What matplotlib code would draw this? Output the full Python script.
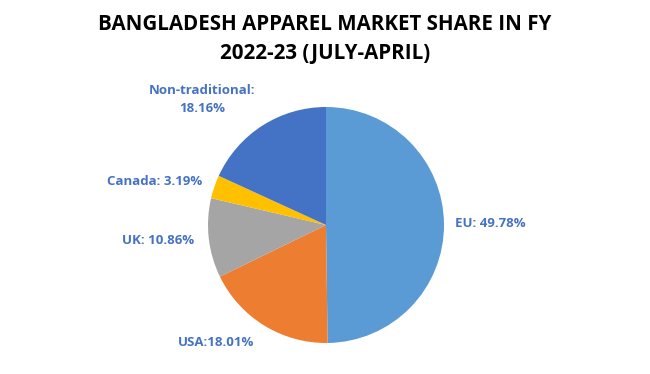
import matplotlib.pyplot as plt

markets = ['EU', 'USA', 'UK', 'Canada', 'Non-traditional']
shares = [49.78, 18.01, 10.86, 3.19, 18.16]
labels = ['EU: 49.78%', 'USA:18.01%', 'UK: 10.86%', 'Canada: 3.19%', 'Non-traditional:\n18.16%']
colors = ['#5B9BD5', '#ED7D31', '#A5A5A5', '#FFC000', '#4472C4']
# label anchor pixel positions (centre of text) in the 650x374 frame
lab_px = [(490, 224), (216, 342), (158, 241), (155, 182), (202, 100)]

W, H = 650, 374
cx, cy, r = 326, 225, 118

fig = plt.figure(figsize=(6.5, 3.74), dpi=100)
ax = fig.add_axes([(cx - r) / W, (H - cy - r) / H, 2 * r / W, 2 * r / H])
ax.pie(shares, colors=colors, startangle=90, counterclock=False, radius=1,
       wedgeprops=dict(linewidth=0))
ax.set_xlim(-1, 1)
ax.set_ylim(-1, 1)
ax.set_aspect('equal')
ax.axis('off')

for lab, (px, py) in zip(labels, lab_px):
    fig.text(px / W, 1 - py / H, lab, ha='center', va='center', color='#4472C4',
             fontsize=9.5, fontweight='bold', family=['Open Sans', 'DejaVu Sans'],
             linespacing=1.5)

fig.text(0.5, 1 - 39 / H, 'BANGLADESH APPAREL MARKET SHARE IN FY\n2022-23 (JULY-APRIL)',
         ha='center', va='center', fontsize=14.8, fontweight='bold',
         family=['Open Sans', 'DejaVu Sans'], linespacing=1.55)

fig.savefig('out.png', dpi=100)
